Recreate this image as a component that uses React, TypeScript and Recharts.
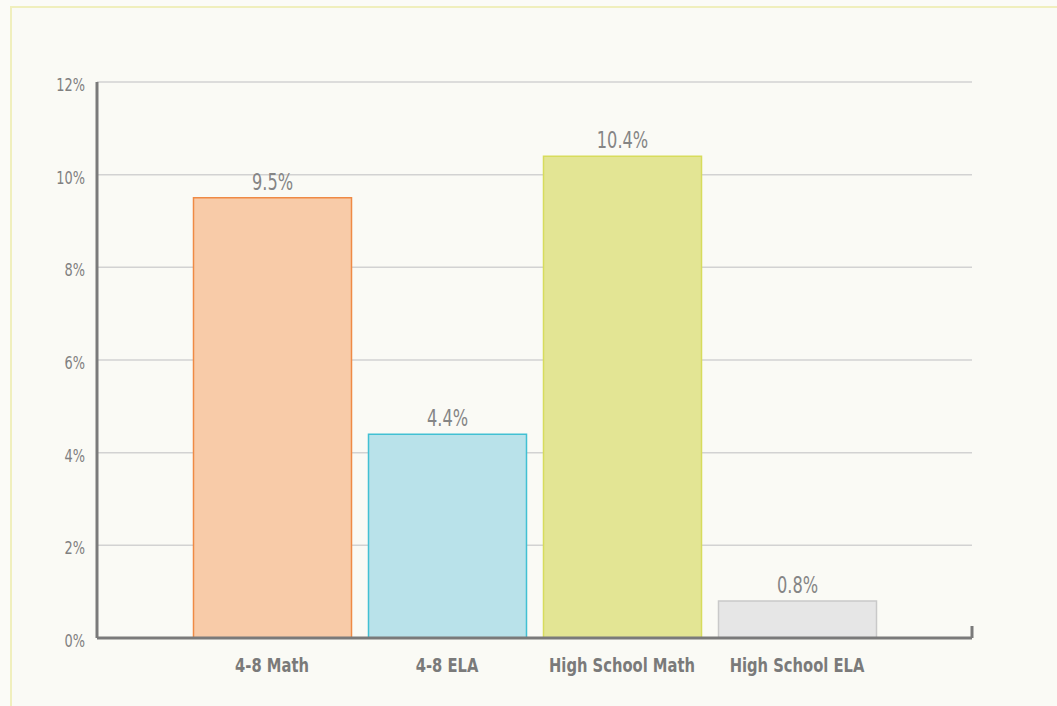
import React from 'react';
import * as R from 'recharts';
import { BarChart, Bar, XAxis, YAxis, CartesianGrid, Cell, LabelList } from 'recharts';

const categories = ['4-8 Math', '4-8 ELA', 'High School Math', 'High School ELA'];
const values = [9.5, 4.4, 10.4, 0.8];
const fills = ['#f8cba8', '#b9e2ea', '#e3e594', '#e6e6e6'];
const strokes = ['#ef8a45', '#41c0d3', '#d7dc5c', '#c9c9c9'];
const yTicks = [0, 2, 4, 6, 8, 10, 12];

const data = categories.map((c, i) => ({ name: c, value: values[i] }));

const FONT = '"DejaVu Sans Condensed", "Liberation Sans", sans-serif';

function EndTick() {
  const usePA = (R as any).usePlotArea;
  const pa = usePA ? usePA() : null;
  if (!pa) return null;
  const x = pa.x + pa.width;
  const y = pa.y + pa.height;
  return <line x1={x} x2={x} y1={y - 12} y2={y} stroke="#7a7a7a" strokeWidth={3} />;
}

function XTick(props: any) {
  const { x, y, payload } = props;
  return (
    <g transform={`translate(${x},${y}) scale(0.82,1)`}>
      <text x={0} y={0} dy={20} textAnchor="middle" fill="#7a7a7a" fontSize={20} fontWeight={700} fontFamily={FONT}>
        {payload.value}
      </text>
    </g>
  );
}

function YTick(props: any) {
  const { x, y, payload } = props;
  return (
    <g transform={`translate(${x},${y}) scale(0.82,1)`}>
      <text x={0} y={0} dy={9} textAnchor="end" fill="#808080" fontSize={17.5} fontFamily={FONT}>
        {`${payload.value}%`}
      </text>
    </g>
  );
}

function ValueLabel(props: any) {
  const { x, y, width, value } = props;
  const cx = Number(x) + Number(width) / 2;
  return (
    <g transform={`translate(${cx},${Number(y) - 8}) scale(0.8,1)`}>
      <text x={0} y={0} textAnchor="middle" fill="#858585" fontSize={22.5} fontFamily={FONT}>
        {`${Number(value).toFixed(1)}%`}
      </text>
    </g>
  );
}

export default function App() {
  return (
    <div style={{ position: 'fixed', left: 0, top: 0, width: 1057, height: 706, background: '#fbfbf7', overflow: 'hidden' }}>
      <div style={{ position: 'absolute', left: 10, top: 6, width: 1100, height: 760, borderLeft: '2px solid #f0efbd', borderTop: '2px solid #f0efbd', background: '#fafaf5' }} />
      <div style={{ position: 'absolute', left: 0, top: 0 }}>
        <BarChart width={1057} height={706} data={data} margin={{ top: 82, right: 85, left: 0, bottom: 0 }}>
          <CartesianGrid vertical={false} stroke="#d2d2d2" strokeWidth={1.5} />
          <XAxis
            dataKey="name"
            height={68}
            padding={{ left: 87.5, right: 87.5 }}
            axisLine={{ stroke: '#7a7a7a', strokeWidth: 3 }}
            tickLine={false}
            tickSize={0}
            tickMargin={14}
            tick={<XTick />}
          />
          <YAxis
            width={97}
            domain={[0, 12]}
            ticks={yTicks}
            interval={0}
            axisLine={{ stroke: '#7a7a7a', strokeWidth: 3 }}
            tickLine={false}
            tickSize={0}
            tickMargin={12}
            tick={<YTick />}
          />
          <Bar dataKey="value" barSize={158} isAnimationActive={false} strokeWidth={1.5}>
            {data.map((d, i) => (
              <Cell key={d.name} fill={fills[i]} stroke={strokes[i]} />
            ))}
            <LabelList dataKey="value" content={<ValueLabel />} />
          </Bar>
          <EndTick />
        </BarChart>
      </div>
    </div>
  );
}
